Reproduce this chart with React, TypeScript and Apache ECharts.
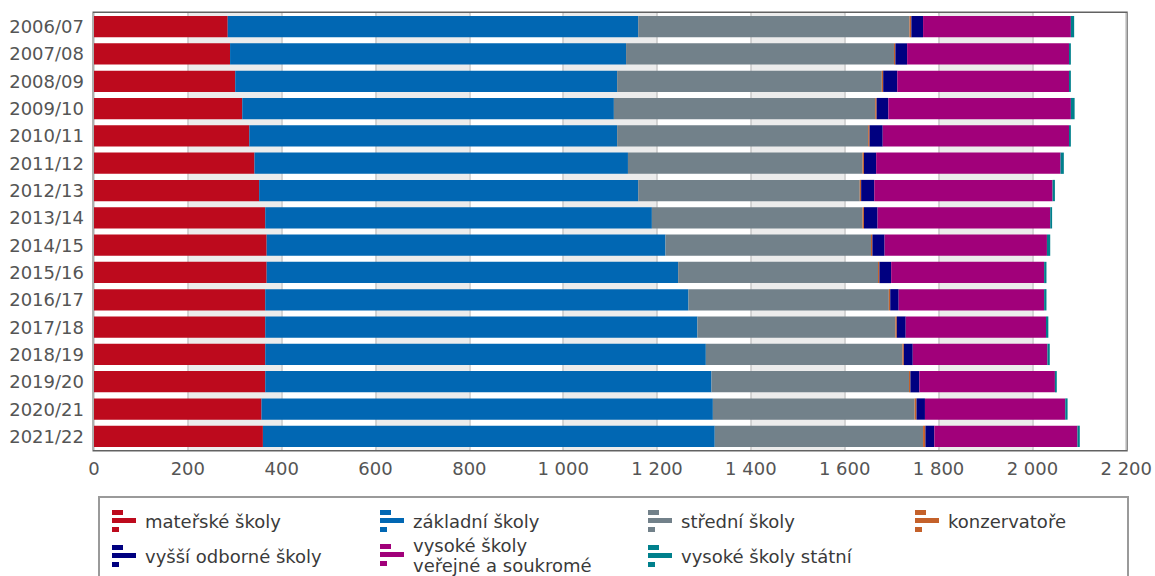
import React, { useEffect, useRef } from "react";
import * as echarts from "echarts";

// School years (rows, top to bottom)
const years = [
  "2006/07", "2007/08", "2008/09", "2009/10", "2010/11", "2011/12", "2012/13", "2013/14",
  "2014/15", "2015/16", "2016/17", "2017/18", "2018/19", "2019/20", "2020/21", "2021/22",
];

// Values per school type
const materske = [285, 290, 301, 316, 331, 342, 352, 365, 368, 368, 365, 365, 365, 365, 357, 360];
const zakladni = [875, 844, 814, 792, 784, 796, 808, 824, 850, 877, 902, 921, 939, 951, 962, 963];
const stredni = [578, 571, 564, 557, 535, 500, 472, 449, 438, 426, 427, 422, 419, 421, 430, 444];
const konzervatore = [4, 3, 3, 3, 3, 3, 3, 3, 3, 3, 3, 3, 3, 3, 4, 5];
const vyssiOdborne = [25, 25, 30, 25, 28, 26, 28, 29, 26, 25, 18, 19, 19, 19, 18, 19];
const vysokeVerejne = [315, 345, 366, 389, 397, 393, 380, 368, 346, 326, 310, 299, 287, 289, 299, 305];
const vysokeStatni = [7, 4, 4, 8, 4, 7, 5, 4, 7, 5, 5, 5, 5, 4, 5, 5];

// Axis scale
const axisMin = 0;
const axisMax = 2200;
const axisStep = 200;

const seriesDefs = [
  { name: "mateřské školy", data: materske, color: "#BD0A1D" },
  { name: "základní školy", data: zakladni, color: "#0167B3" },
  { name: "střední školy", data: stredni, color: "#72818A" },
  { name: "konzervatoře", data: konzervatore, color: "#C4612A" },
  { name: "vyšší odborné školy", data: vyssiOdborne, color: "#000080" },
  { name: "vysoké školy\nveřejné a soukromé", data: vysokeVerejne, color: "#A1007A" },
  { name: "vysoké školy státní", data: vysokeStatni, color: "#00808C" },
];

// Legend cell positions (icon left, item top)
const legendCells = [
  { left: 112, top: 510 },
  { left: 380, top: 510 },
  { left: 648, top: 510 },
  { left: 915, top: 510 },
  { left: 112, top: 545 },
  { left: 380, top: 535 },
  { left: 648, top: 545 },
];

const FONT = "DejaVu Sans, Verdana, sans-serif";
const ICON = "path://M0 0H11V5H0Z M0 8H24V13H0Z M0 17H7V22H0Z";

function formatThousands(v: number): string {
  if (v >= 1000) {
    const th = Math.floor(v / 1000);
    const rest = String(v % 1000).padStart(3, "0");
    return `${th} ${rest}`;
  }
  return String(v);
}

export default function App() {
  const ref = useRef<HTMLDivElement>(null);

  useEffect(() => {
    if (!ref.current) return;
    const chart = echarts.init(ref.current, undefined, { renderer: "svg" });

    const legends = seriesDefs.map((s, i) => ({
      data: [s.name],
      left: legendCells[i].left,
      top: legendCells[i].top,
      padding: 0,
      itemWidth: 24,
      itemHeight: 22,
      icon: ICON,
      selectedMode: false,
      textStyle: {
        fontFamily: FONT,
        fontSize: 18,
        color: "#3a3a3a",
        lineHeight: 20,
        padding: [0, 0, 0, 4],
      },
    }));

    chart.setOption({
      animation: false,
      backgroundColor: "#ffffff",
      textStyle: { fontFamily: FONT },
      grid: {
        left: 94,
        right: 26,
        top: 13,
        bottom: 126,
        show: true,
        borderColor: "#626262",
        borderWidth: 3,
        backgroundColor: "transparent",
      },
      legend: legends,
      graphic: [
        {
          type: "rect",
          shape: { x: 99, y: 497, width: 1029, height: 100 },
          style: { fill: "none", stroke: "#9a9a9a", lineWidth: 2 },
          silent: true,
          z: -1,
        },
      ],
      xAxis: {
        type: "value",
        min: axisMin,
        max: axisMax,
        interval: axisStep,
        axisLine: { show: false },
        axisTick: { show: false },
        axisLabel: {
          fontFamily: FONT,
          fontSize: 18,
          color: "#555555",
          margin: 9,
          formatter: (v: number) => formatThousands(v),
        },
        splitLine: { show: true, lineStyle: { color: "#c8c8c8", width: 1.5 } },
        splitArea: { show: true, areaStyle: { color: ["#ffffff", "#ececec"] } },
      },
      yAxis: {
        type: "category",
        data: years,
        inverse: true,
        axisLine: { show: false },
        axisTick: { show: false },
        axisLabel: {
          fontFamily: FONT,
          fontSize: 18,
          color: "#555555",
          margin: 10,
        },
      },
      series: seriesDefs.map((s) => ({
        name: s.name,
        type: "bar",
        stack: "total",
        data: s.data,
        barCategoryGap: "22%",
        itemStyle: { color: s.color },
        emphasis: { disabled: true },
      })),
    });

    return () => chart.dispose();
  }, []);

  return (
    <div
      ref={ref}
      style={{ position: "absolute", left: 0, top: 0, width: 1155, height: 576 }}
    />
  );
}
